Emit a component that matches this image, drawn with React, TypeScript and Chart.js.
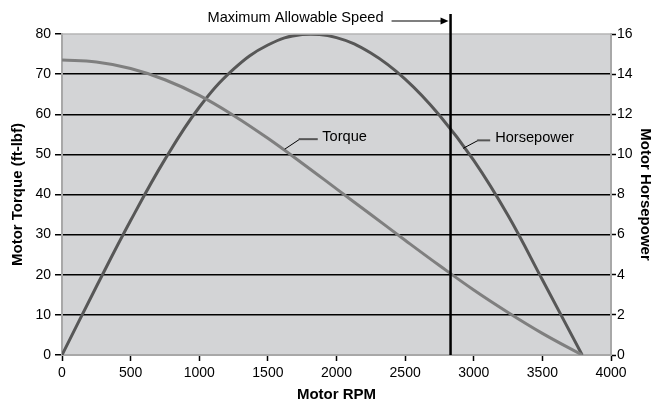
import React, { useEffect, useRef } from "react";
import { Chart, registerables } from "chart.js";

Chart.register(...registerables);

const torqueRpm = [0, 250, 500, 750, 1000, 1250, 1500, 1750, 2000, 2250, 2500, 2750, 3000, 3250, 3500, 3790];
const torqueValues = [73.5, 73.0, 71.4, 68.6, 64.7, 59.7, 54.0, 47.8, 41.4, 35.0, 28.6, 22.3, 16.2, 10.6, 5.4, 0];

const hpRpm = [0, 250, 500, 750, 1000, 1250, 1500, 1750, 2000, 2250, 2500, 2750, 3000, 3250, 3500, 3790];
const hpValues = [0, 3.4, 6.7, 9.75, 12.35, 14.25, 15.45, 15.98, 15.82, 15.05, 13.75, 11.95, 9.7, 6.95, 3.75, 0];

const maxSpeedRpm = 2831;
const maxSpeedLabel = "Maximum Allowable Speed";

const curveLabels = ["Torque", "Horsepower"];
const curveLabelRpm = [1623, 2923];
const curveLabelValue = [51.3, 10.3];
const curveLabelAxis = ["y", "y1"];

const FONT = "'Liberation Sans', Arial, Helvetica, sans-serif";

// leader-line geometry per label: [diag dx, diag dy, horizontal length, text gap]
const leaderStyle = [
  [15, 10, 18, 4.5],
  [15, 8, 12, 5],
];

const overlayPlugin = {
  id: "overlay",
  beforeDraw(chart: any) {
    const { ctx, chartArea } = chart;
    ctx.save();
    ctx.fillStyle = "#d3d4d6";
    ctx.fillRect(chartArea.left, chartArea.top, chartArea.right - chartArea.left, chartArea.bottom - chartArea.top);
    ctx.restore();
  },
  afterDatasetsDraw(chart: any) {
    const { ctx, chartArea, scales } = chart;
    ctx.save();
    ctx.strokeStyle = "#b4b4b4";
    ctx.lineWidth = 1.5;
    ctx.beginPath();
    ctx.moveTo(chartArea.left, chartArea.top);
    ctx.lineTo(chartArea.right, chartArea.top);
    ctx.stroke();

    const vx = scales.x.getPixelForValue(maxSpeedRpm);
    ctx.strokeStyle = "#000";
    ctx.lineWidth = 2.5;
    ctx.beginPath();
    ctx.moveTo(vx, 14);
    ctx.lineTo(vx, chartArea.bottom);
    ctx.stroke();

    ctx.fillStyle = "#000";
    ctx.font = `14.6px ${FONT}`;
    ctx.textAlign = "right";
    ctx.textBaseline = "middle";
    ctx.fillText(maxSpeedLabel, vx - 67, 18);
    ctx.lineWidth = 1.2;
    ctx.beginPath();
    ctx.moveTo(vx - 59, 21);
    ctx.lineTo(vx - 8, 21);
    ctx.stroke();
    ctx.beginPath();
    ctx.moveTo(vx - 10, 17.5);
    ctx.lineTo(vx - 2, 21);
    ctx.lineTo(vx - 10, 24.5);
    ctx.closePath();
    ctx.fill();

    ctx.textAlign = "left";
    for (let i = 0; i < curveLabels.length; i++) {
      const px = scales.x.getPixelForValue(curveLabelRpm[i]);
      const py = scales[curveLabelAxis[i]].getPixelForValue(curveLabelValue[i]);
      const [dx, dy, hl, gap] = leaderStyle[i];
      ctx.strokeStyle = "#000";
      ctx.lineWidth = 1;
      ctx.beginPath();
      ctx.moveTo(px, py);
      ctx.lineTo(px + dx, py - dy);
      ctx.stroke();
      ctx.strokeStyle = "#555";
      ctx.lineWidth = 2;
      ctx.beginPath();
      ctx.moveTo(px + dx - 1, py - dy);
      ctx.lineTo(px + dx + hl, py - dy);
      ctx.stroke();
      ctx.fillStyle = "#000";
      ctx.fillText(curveLabels[i], px + dx + hl + gap, py - dy - 2);
    }
    ctx.restore();
  },
};

const plainTick = (v: any) => String(v);

export default function App() {
  const ref = useRef<HTMLCanvasElement | null>(null);
  useEffect(() => {
    if (!ref.current) return;
    const chart = new Chart(ref.current, {
      type: "line",
      data: {
        datasets: [
          {
            label: "Torque",
            data: torqueRpm.map((x, i) => ({ x, y: torqueValues[i] })),
            yAxisID: "y",
            borderColor: "#7f7f7f",
            borderWidth: 3,
            pointRadius: 0,
            tension: 0.4,
            fill: false,
          },
          {
            label: "Horsepower",
            data: hpRpm.map((x, i) => ({ x, y: hpValues[i] })),
            yAxisID: "y1",
            borderColor: "#575757",
            borderWidth: 3,
            pointRadius: 0,
            tension: 0.4,
            fill: false,
          },
        ],
      },
      options: {
        responsive: false,
        animation: false,
        layout: { padding: { top: 34, left: 0, right: 0, bottom: 0 } },
        plugins: { legend: { display: false }, tooltip: { enabled: false } },
        scales: {
          x: {
            type: "linear",
            min: 0,
            max: 4000,
            ticks: { stepSize: 500, color: "#000", font: { size: 14, family: FONT }, padding: 4, maxRotation: 0, callback: plainTick },
            grid: { drawOnChartArea: false, drawTicks: true, tickLength: 6, tickColor: "#000", tickWidth: 1.5 },
            border: { color: "#a8a8a8", width: 2 },
            title: { display: true, text: "Motor RPM", color: "#000", font: { size: 15, weight: "bold", family: FONT, lineHeight: 1 }, padding: { top: 0, bottom: 0 } },
            afterFit: (s: any) => { s.height = 47; },
          },
          y: {
            type: "linear",
            position: "left",
            min: 0,
            max: 80,
            ticks: { stepSize: 10, color: "#000", font: { size: 14, family: FONT }, padding: 4, callback: plainTick },
            grid: {
              color: (c: any) => (c.tick && (c.tick.value === 0 || c.tick.value === 80) ? "rgba(0,0,0,0)" : "#000"),
              lineWidth: 1.5,
              tickLength: 7,
              tickColor: "#000",
              tickWidth: 1.5,
            },
            border: { color: "#a8a8a8", width: 2 },
            title: { display: true, text: "Motor Torque (ft-lbf)", color: "#000", font: { size: 15, weight: "bold", family: FONT }, padding: { top: 9, bottom: 0 } },
            afterFit: (s: any) => { s.width = 62; },
          },
          y1: {
            type: "linear",
            position: "right",
            min: 0,
            max: 16,
            ticks: { stepSize: 2, color: "#000", font: { size: 14, family: FONT }, padding: 1, callback: plainTick },
            grid: { drawOnChartArea: false, tickLength: 5, tickColor: "#000", tickWidth: 1.5 },
            border: { color: "#a8a8a8", width: 2 },
            title: { display: true, text: "Motor Horsepower", color: "#000", font: { size: 15, weight: "bold", family: FONT }, padding: { top: 0, bottom: 0 } },
            afterFit: (s: any) => { s.width = 43; },
          },
        },
      },
      plugins: [overlayPlugin],
    } as any);
    return () => chart.destroy();
  }, []);
  return (
    <div style={{ position: "fixed", left: 0, top: 0, width: 654, height: 402, background: "#fff" }}>
      <canvas ref={ref} width={654} height={402} style={{ display: "block" }} />
    </div>
  );
}
